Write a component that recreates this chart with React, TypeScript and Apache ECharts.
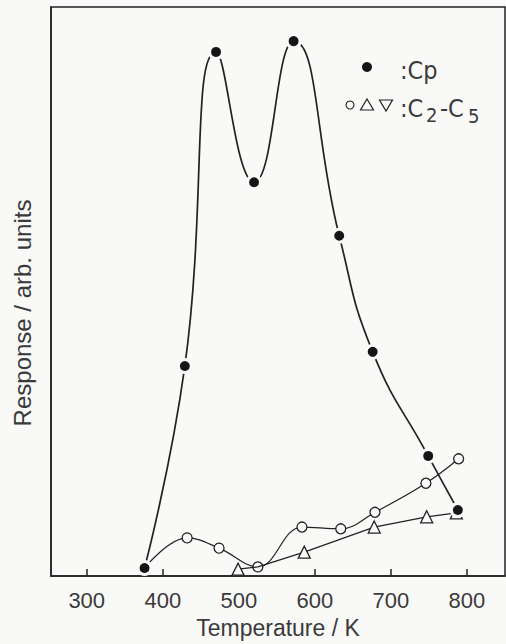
import React, { useEffect, useRef } from "react";
import * as echarts from "echarts";

const xTicks = [300, 400, 500, 600, 700, 800];
const cpTemp = [376, 429, 470, 520, 572, 632, 676, 749, 788];
const cpResp = [1.4, 36.9, 92.1, 69.2, 94.0, 59.8, 39.4, 21.1, 11.6];
const circTemp = [376, 432, 474, 525, 583, 634, 679, 746, 789];
const circResp = [1.4, 6.7, 4.9, 1.6, 8.6, 8.3, 11.2, 16.3, 20.6];
const triTemp = [499, 525, 586, 678, 747, 786];
const triResp = [1.2, 1.6, 4.2, 8.6, 10.4, 11.1];

const INK = "#222";
const TXT = "#3a3a3a";
const BG = "#f9f9f8";

export default function App() {
  const ref = useRef<HTMLDivElement>(null);
  useEffect(() => {
    const chart = echarts.init(ref.current!, null, { renderer: "svg", width: 506, height: 644 });
    const circData = circTemp.map((t, i) =>
      i === 0 ? { value: [t, circResp[i]], symbol: "none" } : { value: [t, circResp[i]] }
    );
    const triData = triTemp.map((t, i) =>
      i === 1 ? { value: [t, triResp[i]], symbol: "none" } : { value: [t, triResp[i]] }
    );
    const cpData = cpTemp.map((t, i) => [t, cpResp[i]]);
    const font = "Liberation Sans";
    const lf = "'DejaVu Sans Condensed', 'Liberation Sans Narrow', 'DejaVu Sans'";
    chart.setOption({
      animation: false,
      backgroundColor: BG,
      grid: { left: 51, top: 7, right: 1, bottom: 68, show: true, borderColor: INK, borderWidth: 1.5 },
      xAxis: {
        type: "value",
        min: 253,
        max: 850,
        name: "Temperature / K",
        nameLocation: "middle",
        nameGap: 40,
        nameTextStyle: { fontSize: 23, color: TXT, fontFamily: font },
        axisLine: { show: true, lineStyle: { color: INK, width: 1.5 } },
        axisTick: { show: true, inside: true, length: 7, customValues: xTicks, lineStyle: { color: INK, width: 1.5 } },
        axisLabel: { customValues: xTicks, fontSize: 22, color: TXT, fontFamily: font, margin: 13 },
        splitLine: { show: false },
      },
      yAxis: {
        type: "value",
        min: 0,
        max: 100,
        axisLine: { show: true, lineStyle: { color: INK, width: 1.5 } },
        axisTick: { show: false },
        axisLabel: { show: false },
        splitLine: { show: false },
      },
      series: [
        {
          type: "line",
          data: circData,
          smooth: 0.4,
          symbol: "circle",
          symbolSize: 10,
          clip: false,
          itemStyle: { color: BG, borderColor: INK, borderWidth: 1.3 },
          lineStyle: { color: INK, width: 1.2 },
          z: 2,
        },
        {
          type: "line",
          data: triData,
          smooth: false,
          symbol: "triangle",
          symbolSize: 12,
          clip: false,
          itemStyle: { color: BG, borderColor: INK, borderWidth: 1.3 },
          lineStyle: { color: INK, width: 1.2 },
          z: 3,
        },
        {
          type: "line",
          data: cpData,
          smooth: 0.5,
          symbol: "circle",
          symbolSize: 13,
          clip: false,
          itemStyle: { color: "#151515", borderColor: BG, borderWidth: 3 },
          lineStyle: { color: INK, width: 1.7 },
          z: 4,
        },
      ],
      graphic: [
        {
          type: "text",
          x: 22,
          y: 313,
          rotation: Math.PI / 2,
          style: { text: "Response / arb. units", fontSize: 24, fontFamily: font, fill: TXT, align: "center", verticalAlign: "middle" },
        },
        { type: "circle", shape: { cx: 367, cy: 67, r: 5 }, style: { fill: "#151515" } },
        { type: "text", x: 400, y: 70, style: { text: ":Cp", fontSize: 25, fontFamily: lf, fill: TXT, verticalAlign: "middle" } },
        { type: "circle", shape: { cx: 350, cy: 105, r: 4 }, style: { fill: BG, stroke: INK, lineWidth: 1.1 } },
        { type: "polygon", shape: { points: [[367, 99], [373.5, 110], [360.5, 110]] }, style: { fill: BG, stroke: INK, lineWidth: 1.2 } },
        { type: "polygon", shape: { points: [[379.5, 100], [392.5, 100], [386, 111]] }, style: { fill: BG, stroke: INK, lineWidth: 1.2 } },
        { type: "text", x: 400, y: 108, style: { text: ":C", fontSize: 25, fontFamily: lf, fill: TXT, verticalAlign: "middle" } },
        { type: "text", x: 426, y: 115, style: { text: "2", fontSize: 20, fontFamily: lf, fill: TXT, verticalAlign: "middle" } },
        { type: "text", x: 440, y: 108, style: { text: "-C", fontSize: 25, fontFamily: lf, fill: TXT, verticalAlign: "middle" } },
        { type: "text", x: 468, y: 116, style: { text: "5", fontSize: 20, fontFamily: lf, fill: TXT, verticalAlign: "middle" } },
      ],
    });
    return () => chart.dispose();
  }, []);
  return <div ref={ref} style={{ position: "absolute", left: 0, top: 0, width: 506, height: 644, background: BG }} />;
}
